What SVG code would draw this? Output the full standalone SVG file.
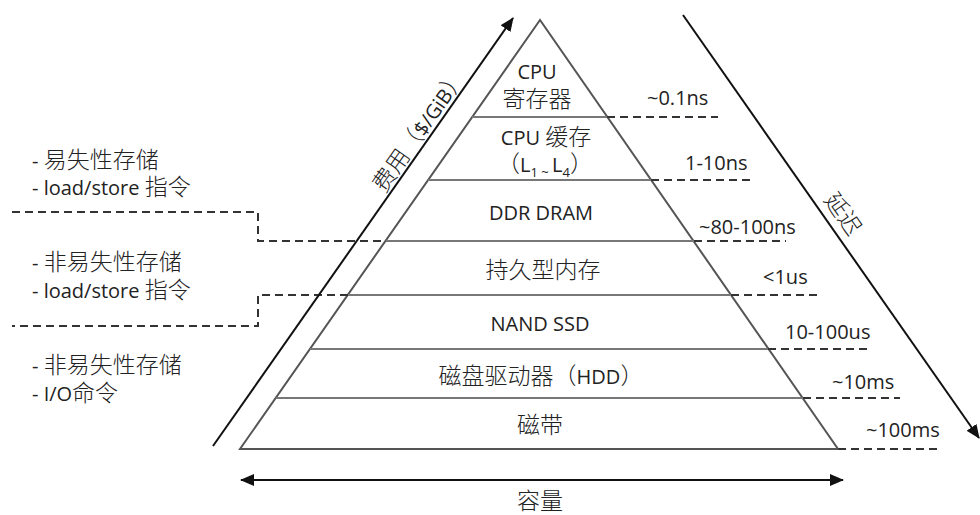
<svg xmlns="http://www.w3.org/2000/svg" width="980" height="515" viewBox="0 0 980 515">
<style>
text{font-family:"Open Sans","Noto Sans CJK SC",sans-serif;font-size:20px;fill:#222}
.cn{font-family:"Noto Sans CJK SC","Open Sans",sans-serif;font-size:23px;font-weight:300}
.mid{text-anchor:middle}
.edge{fill:none;stroke:#555;stroke-width:2}
.div{fill:none;stroke:#777;stroke-width:2}
.dash{fill:none;stroke:#333;stroke-width:2;stroke-dasharray:8 5}
.arrow{fill:none;stroke:#111;stroke-width:2}
</style>
<defs>
<marker id="ah" viewBox="0 0 14 12" refX="13" refY="6" markerWidth="14" markerHeight="12" markerUnits="userSpaceOnUse" orient="auto-start-reverse">
<path d="M0,0 L14,6 L0,12 Z" fill="#111"/>
</marker>
</defs>
<rect width="980" height="515" fill="#fff"/>

<g id="pyramid">
<path class="edge" d="M540,20 L240,449 L838,449 Z"/>
</g>

<g id="layer-cpu-reg">
<line class="div" x1="472" y1="117" x2="607" y2="117"/>
<text class="mid" x="537" y="79">CPU</text>
<text class="mid cn" x="537" y="107">寄存器</text>
</g>
<g id="layer-cpu-cache">
<line class="div" x1="428" y1="180" x2="651" y2="180"/>
<text class="mid" x="546" y="145">CPU <tspan class="cn">缓存</tspan></text>
<text class="mid" x="545" y="172"><tspan class="cn">（</tspan>L<tspan font-size="13" dy="5">1</tspan><tspan font-size="13" dy="0"> ~ </tspan><tspan dy="-5">L</tspan><tspan font-size="13" dy="5">4</tspan><tspan class="cn" dy="-5">）</tspan></text>
</g>
<g id="layer-dram">
<line class="div" x1="386" y1="241" x2="694" y2="241"/>
<text class="mid" x="541" y="220">DDR DRAM</text>
</g>
<g id="layer-pmem">
<line class="div" x1="348" y1="295" x2="731" y2="295"/>
<text class="mid cn" x="543" y="277.5">持久型内存</text>
</g>
<g id="layer-ssd">
<line class="div" x1="310" y1="349" x2="768" y2="349"/>
<text class="mid" x="540" y="331">NAND SSD</text>
</g>
<g id="layer-hdd">
<line class="div" x1="276" y1="398" x2="803" y2="398"/>
<text class="mid" x="541" y="384"><tspan class="cn">磁盘驱动器（</tspan>HDD<tspan class="cn">）</tspan></text>
</g>
<g id="layer-tape">
<text class="mid cn" x="540" y="432.5">磁带</text>
</g>

<g id="connectors">
<path class="dash" d="M607,117 H718"/>
<path class="dash" d="M651,180 H750"/>
<path class="dash" d="M694,241 H786"/>
<path class="dash" d="M731,295 H822"/>
<path class="dash" d="M768,349 H867"/>
<path class="dash" d="M803,398 H900"/>
<path class="dash" d="M838,449 H940"/>
<path class="dash" d="M12,212 H258 V241 H385"/>
<path class="dash" d="M348,295 H258 V326 H12"/>
<line class="arrow" x1="213" y1="446" x2="513" y2="18" marker-end="url(#ah)"/>
<line class="arrow" x1="683" y1="15" x2="979" y2="438" marker-end="url(#ah)"/>
<line class="arrow" x1="241" y1="480" x2="843" y2="480" marker-start="url(#ah)" marker-end="url(#ah)"/>
</g>

<g id="latency-labels">
<text x="647" y="105">~0.1ns</text>
<text x="685" y="170">1-10ns</text>
<text x="699" y="234">~80-100ns</text>
<text x="763" y="284">&lt;1us</text>
<text x="785" y="339">10-100us</text>
<text x="832" y="389">~10ms</text>
<text x="866" y="437">~100ms</text>
</g>

<g id="axis-labels">
<text class="mid" transform="translate(420,131) rotate(-55)" x="0" y="7"><tspan class="cn">费用（</tspan>$/GiB<tspan class="cn">）</tspan></text>
<text class="mid cn" transform="translate(843,214) rotate(55)" x="0" y="8">延迟</text>
<text class="mid cn" x="540" y="509">容量</text>
</g>

<g id="left-notes">
<text x="32" y="168">- <tspan class="cn">易失性存储</tspan></text>
<text x="32" y="195">- load/store <tspan class="cn">指令</tspan></text>
<text x="32" y="270">- <tspan class="cn">非易失性存储</tspan></text>
<text x="32" y="298">- load/store <tspan class="cn">指令</tspan></text>
<text x="32" y="373">- <tspan class="cn">非易失性存储</tspan></text>
<text x="32" y="401">- I/O<tspan class="cn">命令</tspan></text>
</g>
</svg>
